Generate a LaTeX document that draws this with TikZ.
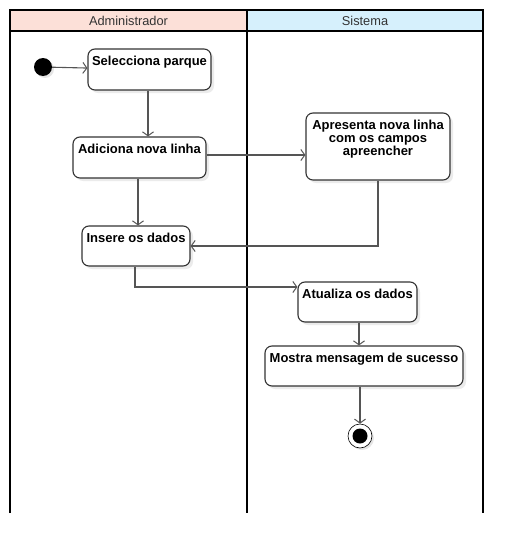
\documentclass[tikz,border=0pt]{standalone}
\usepackage{fontspec}
\setmainfont{Liberation Sans}
\usepackage{tikz}
\usetikzlibrary{arrows.meta,shapes,positioning,shadows,calc}
\definecolor{AdmHead}{HTML}{FCE0D8}
\definecolor{SysHead}{HTML}{D6F0FC}
\definecolor{BoxLine}{HTML}{333333}
\definecolor{FlowLine}{HTML}{555555}

\begin{document}
\begin{tikzpicture}[x=1pt, y=-1pt,
  lanehead/.style={rectangle, fill=#1, text=BoxLine, minimum height=21pt,
                   inner sep=0pt, font=\fontsize{12.8}{14}\selectfont},
  actbox/.style={rectangle, rounded corners=7pt, draw=BoxLine, line width=1.1pt,
                 fill=white, align=center, inner xsep=2pt, inner ysep=4pt,
                 text height=12pt, text depth=#1,
                 font=\bfseries\fontsize{13}{13.2}\selectfont,
                 drop shadow={shadow xshift=3pt, shadow yshift=-3pt,
                              fill=black!8, opacity=1}},
  startdot/.style={circle, fill=black, minimum size=18pt, inner sep=0pt,
                   drop shadow={shadow xshift=2pt, shadow yshift=-2pt,
                                fill=black!10, opacity=1}},
  enddot/.style={circle, draw=black, fill=white, line width=0.6pt,
                 minimum size=24pt, inner sep=0pt,
                 drop shadow={shadow xshift=2pt, shadow yshift=-2pt,
                              fill=black!10, opacity=1}},
  flow/.style={draw=FlowLine, line width=1.1pt,
               -{Straight Barb[length=4pt, width=11pt, line width=1pt]}}
]
  \useasboundingbox (0,0) rectangle (530,554);

  % swimlanes
  \node[lanehead=AdmHead, minimum width=237pt] (hadm) at (128.5,20.5) {Administrador};
  \node[lanehead=SysHead, minimum width=236pt] (hsys) at (365,20.5) {Sistema};
  \draw[line width=2.2pt] (10,513) -- (10,10) -- (483,10) -- (483,513);
  \draw[line width=2.2pt] (247,10) -- (247,513);
  \draw[line width=2.2pt] (10,31) -- (483,31);

  % actions
  \node[startdot] (ini) at (43,67) {};
  \node[actbox=21pt, minimum width=123pt] (sel) at (149.5,69.5) {Selecciona parque};
  \node[actbox=21pt, minimum width=133pt] (adi) at (139.5,157.5) {Adiciona nova linha};
  \node[actbox=20.6pt, text height=38.4pt, minimum width=144pt] (apr) at (378,146.5)
       {Apresenta nova linha\\com os campos\\apreencher};
  \node[actbox=20pt, minimum width=108pt] (ins) at (136,246) {Insere os dados};
  \node[actbox=20pt, minimum width=119pt] (atu) at (357.5,302) {Atualiza os dados};
  \node[actbox=20pt, minimum width=198pt] (mos) at (364,366) {Mostra mensagem de sucesso};
  \node[enddot] (fin) at (360,436) {};
  \fill (fin) circle (7.5pt);

  % flows
  \draw[flow] (ini) -- (sel);
  \draw[flow] ([xshift=-1.5pt]sel.south) -- ([xshift=-1.5pt]sel.south |- adi.north);
  \draw[flow] ([yshift=2.5pt]adi.east) -- ([yshift=2.5pt]adi.east -| apr.west);
  \draw[flow] ([xshift=-1.5pt]adi.south) -- ([xshift=-1.5pt]adi.south |- ins.north);
  \draw[flow] (apr.south) |- (ins.east);
  \draw[flow] ([xshift=-1pt]ins.south) |- ([yshift=15pt]atu.west);
  \draw[flow] ([xshift=1.5pt]atu.south) -- ([xshift=1.5pt]atu.south |- mos.north);
  \draw[flow] (mos.south -| fin) -- (fin);
\end{tikzpicture}
\end{document}
